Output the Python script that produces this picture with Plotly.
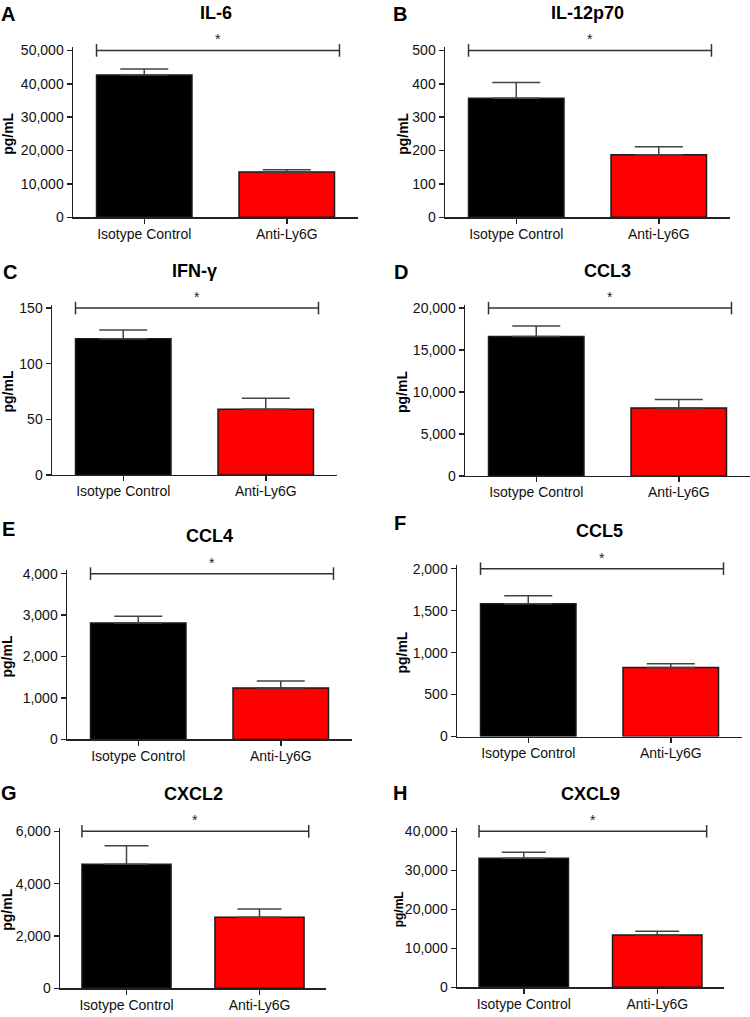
import plotly.graph_objects as go

# ---------------- data ----------------
categories = ["Isotype Control", "Anti-Ly6G"]
panel_letters = ["A", "B", "C", "D", "E", "F", "G", "H"]
cytokines = ["IL-6", "IL-12p70", "IFN-γ", "CCL3", "CCL4", "CCL5", "CXCL2", "CXCL9"]
isotype_mean = [42600, 357, 122.5, 16600, 2810, 1583, 4740, 33100]
isotype_sem = [1800, 47, 7.7, 1250, 160, 94, 710, 1520]
anti_mean = [13600, 187, 59, 8080, 1243, 823, 2718, 13390]
anti_sem = [600, 24, 10, 1020, 167, 44, 314, 1010]
y_max = [50000, 500, 150, 20000, 4000, 2000, 6000, 40000]
y_dtick = [10000, 100, 50, 5000, 1000, 500, 2000, 10000]
significance = ["*"] * 8

# ---------------- layout / style ----------------
W, H = 750, 1017
# (x_left, x_right, y_px_at_max, y_px_at_zero)
boxes = [
    (73, 358, 46, 215), (445, 730, 46, 215),
    (52, 337, 307, 476), (465, 750, 307, 477),
    (67, 352, 576, 744), (457, 742, 571, 741),
    (60, 326, 837, 996), (457, 724, 837, 995),
]
letter_pos = [(8, 9), (400, 9), (10, 270), (401, 270),
              (8, 531), (400, 525), (9, 798), (400, 798)]
ytitle_x = [8, 403, 8, 402, 7, 402, 7, 399]
ytitle_size = [14, 14, 14, 14, 14, 14, 14, 12]
BAR_COLORS = ["#000000", "#ff0000"]
BAR_WIDTH = 0.67
SIG_LEFT, SIG_RIGHT = -0.335, 1.37
PAD = 0.02
FONT = "Liberation Sans, Arial, sans-serif"
AX_COLOR = "#222222"

fig = go.Figure()
annotations = []

for i in range(8):
    x0, x1, yM, y0 = boxes[i]
    top_px = yM - (y0 - yM) * PAD
    sfx = "" if i == 0 else str(i + 1)
    xa, ya = "x" + sfx, "y" + sfx

    fig.add_trace(go.Bar(
        x=[0, 1], y=[isotype_mean[i], anti_mean[i]],
        width=BAR_WIDTH,
        marker=dict(color=BAR_COLORS, line=dict(color="#1a1a1a", width=1.5)),
        error_y=dict(type="data", symmetric=False,
                     array=[isotype_sem[i], anti_sem[i]], arrayminus=[0, 0],
                     color="#444444", thickness=1.5, width=24 if i < 6 else 22),
        xaxis=xa, yaxis=ya, showlegend=False, hoverinfo="skip",
    ))
    # significance bracket
    fig.add_trace(go.Scatter(
        x=[SIG_LEFT, SIG_RIGHT], y=[y_max[i], y_max[i]],
        mode="lines+markers",
        line=dict(color="#333333", width=1.5),
        marker=dict(symbol="line-ns-open", size=9,
                    line=dict(color="#333333", width=1.5)),
        cliponaxis=False,
        xaxis=xa, yaxis=ya, showlegend=False, hoverinfo="skip",
    ))

    fig.layout["xaxis" + sfx] = dict(
        domain=[x0 / W, x1 / W], anchor=ya, range=[-0.5, 1.5],
        tickvals=[0, 1], ticktext=categories,
        showline=True, linecolor=AX_COLOR, linewidth=1.5,
        ticks="outside", ticklen=5, tickwidth=1.5, tickcolor=AX_COLOR,
        showgrid=False, zeroline=False, fixedrange=True,
        ticklabelstandoff=-2,
        tickfont=dict(family=FONT, size=14, color="#111111"),
    )
    fig.layout["yaxis" + sfx] = dict(
        domain=[1 - y0 / H, 1 - top_px / H], anchor=xa,
        range=[0, y_max[i] * (1 + PAD)],
        tick0=0, dtick=y_dtick[i], tickformat=",d",
        showline=True, linecolor=AX_COLOR, linewidth=1.5,
        ticks="outside", ticklen=5, tickwidth=1.5, tickcolor=AX_COLOR,
        showgrid=False, zeroline=False, fixedrange=True,
        tickfont=dict(family=FONT, size=14, color="#111111"),
    )

    # star
    annotations.append(dict(
        x=(SIG_LEFT + SIG_RIGHT) / 2, y=y_max[i], xref=xa, yref=ya,
        text=significance[i], showarrow=False, yshift=11,
        font=dict(family=FONT, size=14, color="#222222"),
    ))
    # title
    annotations.append(dict(
        x=(x0 + x1) / 2 / W, y=1 - (yM - 38) / H, xref="paper", yref="paper",
        text="<b>" + cytokines[i] + "</b>", showarrow=False,
        xanchor="center", yanchor="middle",
        font=dict(family=FONT, size=18, color="#000000"),
    ))
    # panel letter
    lx, ly = letter_pos[i]
    annotations.append(dict(
        x=lx / W, y=1 - ly / H, xref="paper", yref="paper",
        text="<b>" + panel_letters[i] + "</b>", showarrow=False,
        xanchor="center", yanchor="middle",
        font=dict(family=FONT, size=20, color="#000000"),
    ))
    # y title
    annotations.append(dict(
        x=ytitle_x[i] / W, y=1 - (yM + y0) / 2 / H, xref="paper", yref="paper",
        text="<b>pg/mL</b>", showarrow=False, textangle=-90,
        xanchor="center", yanchor="middle",
        font=dict(family=FONT, size=ytitle_size[i], color="#000000"),
    ))

fig.update_layout(
    width=W, height=H,
    margin=dict(l=0, r=0, t=0, b=0),
    paper_bgcolor="white", plot_bgcolor="white",
    annotations=annotations,
    bargap=0,
)

fig.write_html(
    "out.html",
    config={"displayModeBar": False, "staticPlot": True},
    post_script="document.body.style.margin='0';document.body.style.padding='0';",
)
